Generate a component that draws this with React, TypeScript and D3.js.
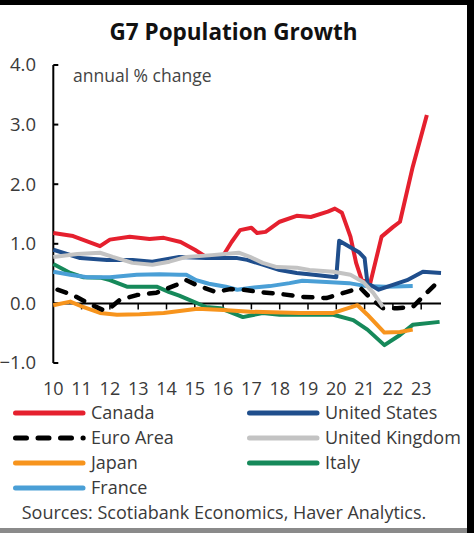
import React from "react"
import * as d3 from "d3"

type Pt = [number, number]

// year (fractional), annual % change
const canada: Pt[] = [
  [2010, 1.18], [2010.7, 1.13], [2011.65, 0.96], [2012, 1.07], [2012.7, 1.12],
  [2013.4, 1.08], [2013.9, 1.1], [2014.5, 1.03], [2015, 0.9], [2015.4, 0.78],
  [2016, 0.8], [2016.3, 1.03], [2016.6, 1.23], [2017, 1.27], [2017.2, 1.18],
  [2017.5, 1.2], [2018, 1.37], [2018.6, 1.47], [2019.1, 1.45], [2019.7, 1.54],
  [2019.95, 1.59], [2020.2, 1.52], [2020.5, 1.12], [2020.7, 0.68], [2020.9, 0.39],
  [2021.2, 0.34], [2021.4, 0.73], [2021.6, 1.12], [2022, 1.28], [2022.25, 1.37],
  [2022.7, 2.29], [2023.2, 3.16],
]
const unitedStates: Pt[] = [
  [2010, 0.9], [2010.95, 0.76], [2011.9, 0.73], [2012.8, 0.73], [2013.5, 0.7],
  [2014.45, 0.78], [2015.4, 0.76], [2016.5, 0.76], [2016.85, 0.73], [2017.4, 0.65],
  [2018, 0.56], [2018.6, 0.51], [2019.2, 0.48], [2020, 0.44], [2020.1, 1.05],
  [2020.8, 0.86], [2021, 0.76], [2021.1, 0.34], [2021.5, 0.23], [2022, 0.31],
  [2022.5, 0.39], [2023.06, 0.53], [2023.7, 0.51],
]
const euroArea: Pt[] = [
  [2010.15, 0.23], [2010.7, 0.14], [2011.2, 0.01], [2011.75, -0.11], [2012, -0.08],
  [2012.35, 0.06], [2012.95, 0.14], [2013.65, 0.18], [2014.35, 0.31], [2014.7, 0.39],
  [2015.05, 0.31], [2015.75, 0.19], [2016.25, 0.24], [2016.7, 0.23], [2017.3, 0.19],
  [2018, 0.16], [2018.8, 0.11], [2019.65, 0.09], [2020.35, 0.19], [2020.85, 0.26],
  [2021.2, 0.09], [2021.65, -0.08], [2022.15, -0.08], [2022.7, -0.06], [2023.2, 0.18],
  [2023.65, 0.39],
]
const unitedKingdom: Pt[] = [
  [2010, 0.78], [2010.85, 0.83], [2011.65, 0.85], [2012.1, 0.78], [2012.8, 0.68],
  [2013.5, 0.65], [2014.1, 0.7], [2014.7, 0.78], [2015.6, 0.81], [2016.55, 0.85],
  [2016.95, 0.78], [2017.4, 0.68], [2017.9, 0.61], [2018.6, 0.6], [2019.05, 0.56],
  [2019.9, 0.53], [2020.5, 0.48], [2020.95, 0.36], [2021.3, 0.18], [2021.65, -0.06],
]
const japan: Pt[] = [
  [2010, -0.03], [2010.6, 0.03], [2011.05, -0.06], [2011.65, -0.16], [2012.25, -0.19],
  [2013.05, -0.18], [2013.9, -0.16], [2015.1, -0.09], [2016, -0.11], [2016.95, -0.14],
  [2018.7, -0.16], [2019.9, -0.16], [2020.75, -0.03], [2021.1, -0.19], [2021.7, -0.49],
  [2022.25, -0.48], [2022.7, -0.44],
]
const italy: Pt[] = [
  [2010, 0.66], [2010.6, 0.51], [2011.05, 0.44], [2011.7, 0.43], [2012, 0.39],
  [2012.6, 0.28], [2013.65, 0.28], [2014.1, 0.19], [2014.45, 0.13], [2015.4, -0.06],
  [2015.9, -0.08], [2016.7, -0.23], [2017.4, -0.16], [2018, -0.19], [2018.8, -0.19],
  [2019.9, -0.19], [2020.6, -0.28], [2021.1, -0.44], [2021.7, -0.7], [2022.25, -0.53],
  [2022.7, -0.36], [2023.65, -0.31],
]
const france: Pt[] = [
  [2010, 0.53], [2010.6, 0.48], [2011.2, 0.44], [2012, 0.44], [2012.95, 0.48],
  [2013.75, 0.49], [2014.45, 0.48], [2014.7, 0.48], [2015.05, 0.39], [2015.5, 0.33],
  [2016.1, 0.28], [2016.5, 0.23], [2016.95, 0.26], [2017.65, 0.29], [2018.35, 0.34],
  [2018.8, 0.38], [2019.65, 0.36], [2020.45, 0.34], [2021.05, 0.29], [2021.75, 0.28],
  [2022.7, 0.29],
]

const yTicks = [-1, 0, 1, 2, 3, 4]
const xTicks = d3.range(2010, 2024)

type Series = { name: string; color: string; data: Pt[]; dashed?: boolean }

const series: Record<string, Series> = {
  canada: { name: "Canada", color: "#e5202e", data: canada },
  us: { name: "United States", color: "#1f4e8c", data: unitedStates },
  euro: { name: "Euro Area", color: "#000000", data: euroArea, dashed: true },
  uk: { name: "United Kingdom", color: "#c3c3c3", data: unitedKingdom },
  japan: { name: "Japan", color: "#f7941d", data: japan },
  italy: { name: "Italy", color: "#16895a", data: italy },
  france: { name: "France", color: "#4a9fd6", data: france },
}

// draw order (bottom to top)
const drawOrder = ["italy", "japan", "france", "euro", "canada", "us", "uk"]
// legend layout, two columns
const legendOrder = [
  ["canada", "us"],
  ["euro", "uk"],
  ["japan", "italy"],
  ["france"],
]

const W = 474
const H = 533
const font = "'Open Sans', 'Noto Sans', sans-serif"
const textColor = "#3a3a3a"

export default function App() {
  const x = d3.scaleLinear().domain([2010, 2024]).range([53.3, 449.5])
  const y = d3.scaleLinear().domain([-1, 4]).range([363, 65])

  const line = d3
    .line<Pt>()
    .x((d) => x(d[0]))
    .y((d) => y(d[1]))

  const axisLeft = x(2010)

  return (
    <svg
      width={W}
      height={H}
      style={{ position: "absolute", left: 0, top: 0, background: "#fff" }}
      fontFamily={font}
    >
      <rect x={0} y={0} width={W} height={H} fill="#fff" />
      {/* frame remnants */}
      <rect x={0} y={0} width={W} height={5} fill="#000" />
      <rect x={467} y={0} width={W - 467} height={H} fill="#000" />
      <rect x={0} y={528} width={467} height={5} fill="#8a8a8a" />

      <text x={233.5} y={40} textAnchor="middle" fontSize={22.5} fontWeight="bold" fill="#111">
        G7 Population Growth
      </text>

      <text x={73} y={82} fontSize={17.5} fill="#444">
        annual % change
      </text>

      {/* y axis */}
      <line x1={axisLeft} x2={axisLeft} y1={y(4)} y2={y(-1)} stroke="#000" strokeWidth={2} />
      {yTicks.map((t) => (
        <g key={t}>
          <line x1={axisLeft} x2={axisLeft + 5} y1={y(t)} y2={y(t)} stroke="#000" strokeWidth={2} />
          <text x={36} y={y(t)} dy="0.35em" textAnchor="end" fontSize={18.5} fill={textColor}>
            {d3.format(".1f")(t)}
          </text>
        </g>
      ))}

      {/* x axis at zero */}
      <line x1={axisLeft} x2={x(2023.7)} y1={y(0)} y2={y(0)} stroke="#000" strokeWidth={2} />
      {xTicks.map((t) => (
        <g key={t}>
          {t > 2010 && (
            <line x1={x(t)} x2={x(t)} y1={y(0)} y2={y(0) + 6} stroke="#000" strokeWidth={1.5} />
          )}
          <text x={x(t)} y={389} dy="0.35em" textAnchor="middle" fontSize={18} fill={textColor}>
            {String(t % 100)}
          </text>
        </g>
      ))}

      {/* series */}
      {drawOrder.map((k) => {
        const s = series[k]
        return (
          <path
            key={k}
            d={line(s.data) || ""}
            fill="none"
            stroke={s.color}
            strokeWidth={s.dashed ? 4.5 : 4}
            strokeLinejoin="round"
            strokeLinecap={s.dashed ? "round" : "butt"}
            strokeDasharray={s.dashed ? "9,11" : undefined}
          />
        )
      })}

      {/* legend */}
      {legendOrder.map((row, i) =>
        row.map((k, j) => {
          const s = series[k]
          const ly = 413 + i * 25
          const lx = j === 0 ? 13 : 247
          return (
            <g key={k}>
              <line
                x1={lx + 2.5}
                x2={lx + (s.dashed ? 70.2 : 70)}
                y1={ly}
                y2={ly}
                stroke={s.color}
                strokeWidth={5}
                strokeLinecap="round"
                strokeDasharray={s.dashed ? "11,11.5" : undefined}
              />
              <text x={lx + 78} y={ly} dy="0.35em" fontSize={18} fill={textColor}>
                {s.name}
              </text>
            </g>
          )
        })
      )}

      <text x={224} y={513} dy="0.35em" textAnchor="middle" fontSize={18} fill={textColor}>
        Sources: Scotiabank Economics, Haver Analytics.
      </text>
    </svg>
  )
}
